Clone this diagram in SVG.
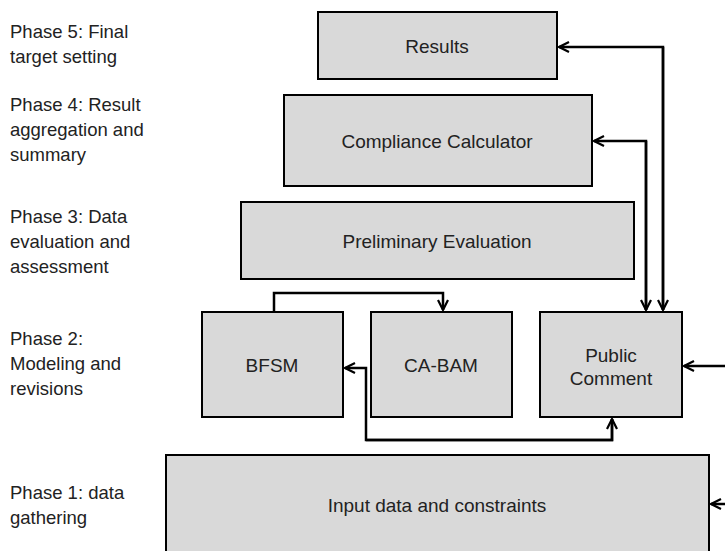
<svg xmlns="http://www.w3.org/2000/svg" width="725" height="551" viewBox="0 0 725 551">
<defs>
<style>
.box{fill:#d9d9d9;stroke:#000;stroke-width:2}
.t{font-family:"Liberation Sans",Arial,sans-serif;font-size:19px;fill:#222;text-anchor:middle}
.p{font-family:"Liberation Sans",Arial,sans-serif;font-size:18.5px;fill:#222}
.c{fill:none;stroke:#000;stroke-width:2.5}
</style>
<marker id="ah" viewBox="0 0 12 12" refX="11" refY="6" markerWidth="12" markerHeight="12" markerUnits="userSpaceOnUse" orient="auto">
<path d="M1,1 L11,6 L1,11" fill="none" stroke="#000" stroke-width="2.2"/>
</marker>
</defs>
<g id="phases">
<text class="p" x="10" y="38">Phase 5: Final</text>
<text class="p" x="10" y="63">target setting</text>
<text class="p" x="10" y="111">Phase 4: Result</text>
<text class="p" x="10" y="136">aggregation and</text>
<text class="p" x="10" y="161">summary</text>
<text class="p" x="10" y="223">Phase 3: Data</text>
<text class="p" x="10" y="248">evaluation and</text>
<text class="p" x="10" y="273">assessment</text>
<text class="p" x="10" y="345">Phase 2:</text>
<text class="p" x="10" y="370">Modeling and</text>
<text class="p" x="10" y="395">revisions</text>
<text class="p" x="10" y="499">Phase 1: data</text>
<text class="p" x="10" y="524">gathering</text>
</g>
<g id="results"><rect class="box" x="318" y="12" width="239" height="67"/><text class="t" x="437" y="53">Results</text></g>
<g id="compliance"><rect class="box" x="284" y="95" width="308" height="91"/><text class="t" x="437" y="148">Compliance Calculator</text></g>
<g id="preliminary"><rect class="box" x="241" y="202" width="393" height="77"/><text class="t" x="437" y="248">Preliminary Evaluation</text></g>
<g id="bfsm"><rect class="box" x="202" y="312" width="141" height="105"/><text class="t" x="272" y="372">BFSM</text></g>
<g id="cabam"><rect class="box" x="371" y="312" width="141" height="105"/><text class="t" x="441" y="372">CA-BAM</text></g>
<g id="public"><rect class="box" x="540" y="312" width="142" height="105"/><text class="t" x="611" y="362">Public</text><text class="t" x="611" y="385">Comment</text></g>
<g id="input"><rect class="box" x="166" y="455" width="543" height="110"/><text class="t" x="437" y="512">Input data and constraints</text></g>
<g id="connectors">
<path class="c" d="M663,310 V47 H559" marker-end="url(#ah)"/>
<path class="c" d="M663,47 V310" marker-end="url(#ah)"/>
<path class="c" d="M646,310 V141 H594" marker-end="url(#ah)"/>
<path class="c" d="M646,141 V310" marker-end="url(#ah)"/>
<path class="c" d="M274,312 V293 H443 V310" marker-end="url(#ah)"/>
<path class="c" d="M612,419 V440 H366 V368 H345" marker-end="url(#ah)"/>
<path class="c" d="M366,440 H612 V419" marker-end="url(#ah)"/>
<path class="c" d="M725,366 H684" marker-end="url(#ah)"/>
<path class="c" d="M725,504 H711" marker-end="url(#ah)"/>
</g>
</svg>
